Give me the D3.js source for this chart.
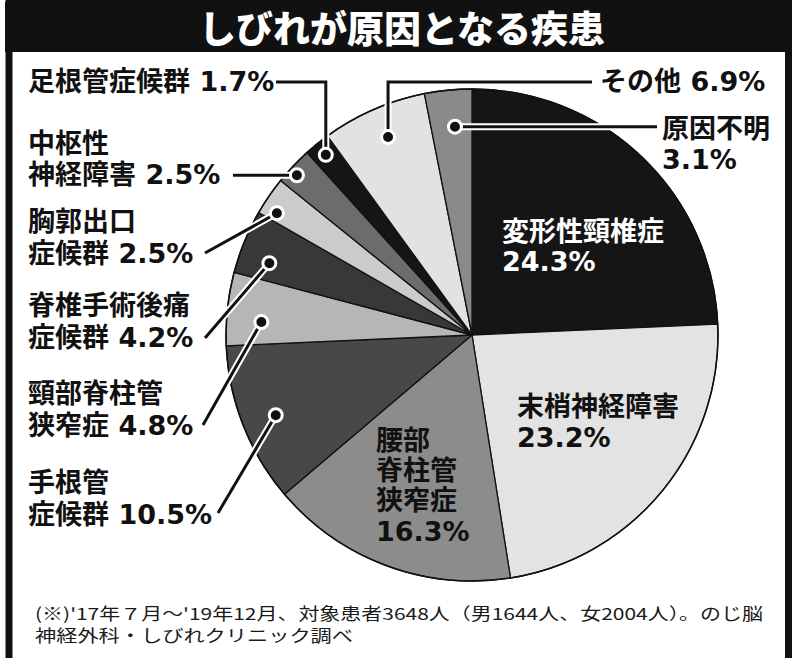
<!DOCTYPE html>
<html><head><meta charset="utf-8">
<script src="https://cdn.jsdelivr.net/npm/d3@7/dist/d3.min.js"></script>
<style>html,body{margin:0;padding:0;background:#fff;}svg{display:block;}</style>
</head><body>
<svg id="c" width="800" height="658"></svg>
<script>
// ---- data ----
const title = "しびれが原因となる疾患";
const categories = ["変形性頸椎症","末梢神経障害","腰部脊柱管狭窄症","手根管症候群","頸部脊柱管狭窄症","脊椎手術後痛症候群","胸郭出口症候群","中枢性神経障害","足根管症候群","その他","原因不明"];
const values = [24.3,23.2,16.3,10.5,4.8,4.2,2.5,2.5,1.7,6.9,3.1];
const colors = ["#151515","#e3e3e3","#8c8c8c","#484848","#b6b6b6","#383838","#cbcbcb","#6c6c6c","#151515","#e2e2e2","#8a8a8a"];
const labelBreaks = [[6],[6],[2,5,8],[3],[5],[6],[4],[3],[],[],[4]];
const pctOwnLine = [true,true,true,false,false,false,false,false,false,false,true];
const notes = ["(※)'17年７月～'19年12月、対象患者3648人（男1644人、女2004人）。のじ脳","神経外科・しびれクリニック調べ"];

// ---- layout ----
const cx = 472, cy = 335, R = 246;
const labelPos = [
  {x:502, y:[241,271], fill:"#fff"},
  {x:517, y:[416,447], fill:"#111"},
  {x:376, y:[450,480,510,541], fill:"#111"},
  {x:28, y:[492,524], fill:"#111", leader:"diag", from:[218,513], rd:212, da:-0.8},
  {x:28, y:[403,435], fill:"#111", leader:"diag", from:[203,425], rd:211, da:-2.6},
  {x:28, y:[315,347], fill:"#111", leader:"diag", from:[205,338], rd:215, da:-2.8},
  {x:28, y:[231,263], fill:"#111", leader:"diag", from:[205,253], rd:230, da:-2.4},
  {x:28, y:[153,184], fill:"#111", leader:"h", from:[233,0], rd:237, da:-1},
  {x:28, y:[91], fill:"#111", leader:"elbow", from:[276,82], rd:232, da:0},
  {x:600, y:[91], fill:"#111", leader:"elbow", from:[592,82], rd:215, da:0.6},
  {x:662, y:[138,169], fill:"#111", leader:"h", from:[657,0], rd:209, da:0.9}
];

const svg = d3.select("#c");

// frame + header
svg.append("rect").attr("x",9).attr("y",2).attr("width",779.5).attr("height",662)
  .attr("fill","#fff").attr("stroke","#111").attr("stroke-width",7);
svg.append("rect").attr("x",5).attr("y",2).attr("width",787).attr("height",50).attr("fill","#111");
svg.append("text").attr("x",402).attr("y",43).attr("text-anchor","middle")
  .attr("font-family","'Noto Sans CJK JP'").attr("font-weight","900").attr("font-size",37)
  .attr("fill","#fff").text(title);

// pie
const pie = d3.pie().sort(null).value(d=>d.v);
const data = pie(categories.map((c,i)=>({c, v:values[i], i})));
const arc = d3.arc().innerRadius(0).outerRadius(R);
const g = svg.append("g").attr("transform",`translate(${cx},${cy})`);
g.selectAll("path.s").data(data).join("path").attr("class","s")
  .attr("d",arc).attr("fill",d=>colors[d.data.i])
  .attr("stroke","#111").attr("stroke-width",1.3).attr("stroke-linejoin","round");
g.append("circle").attr("r",R).attr("fill","none").attr("stroke","#111").attr("stroke-width",1.5);

// labels
const fontFam = "'DejaVu Sans','Noto Sans CJK JP'";
function labelLines(i){
  const name = categories[i], br = labelBreaks[i];
  const parts = []; let prev = 0;
  br.forEach(b=>{parts.push(name.slice(prev,b)); prev=b;});
  if (prev < name.length) parts.push(name.slice(prev));
  const pct = values[i].toFixed(1) + "%";
  if (pctOwnLine[i]) parts.push(pct); else parts[parts.length-1] += " " + pct;
  return parts;
}

// leaders first
const lead = svg.append("g");
data.forEach(d=>{
  const L = labelPos[d.data.i];
  if (!L.leader) return;
  const a = (d.startAngle + d.endAngle)/2 + L.da*Math.PI/180;
  const px = cx + Math.sin(a)*L.rd, py = cy - Math.cos(a)*L.rd;
  let p;
  if (L.leader==="diag") p = `M${L.from[0]},${L.from[1]}L${px},${py}`;
  else if (L.leader==="h") p = `M${L.from[0]},${py}H${px}`;
  else p = `M${L.from[0]},${L.from[1]}H${px}V${py}`;
  lead.append("path").attr("d",p).attr("fill","none").attr("stroke","#fff").attr("stroke-width",7).attr("stroke-linejoin","miter");
  lead.append("path").attr("d",p).attr("fill","none").attr("stroke","#111").attr("stroke-width",3).attr("stroke-linejoin","miter");
  lead.append("circle").attr("cx",px).attr("cy",py).attr("r",6.5).attr("fill","#111").attr("stroke","#fff").attr("stroke-width",3);
});

const lg = svg.append("g").attr("font-family",fontFam).attr("font-weight","bold").attr("font-size",27);
data.forEach(d=>{
  const i = d.data.i, L = labelPos[i];
  const t = lg.append("text").attr("fill",L.fill);
  labelLines(i).forEach((s,k)=>{
    t.append("tspan").attr("x",L.x).attr("y",L.y[k]).text(s);
  });
});

// notes (one multi-line text)
const nt = svg.append("text").attr("font-family","'Noto Sans CJK JP'")
  .attr("font-size",16.5).attr("fill","#1a1a1a");
nt.append("tspan").attr("x",35).attr("y",620).attr("textLength",728).attr("lengthAdjust","spacingAndGlyphs").text(notes[0]);
nt.append("tspan").attr("x",35).attr("y",642).attr("textLength",318).attr("lengthAdjust","spacingAndGlyphs").text(notes[1]);
</script>
</body></html>
